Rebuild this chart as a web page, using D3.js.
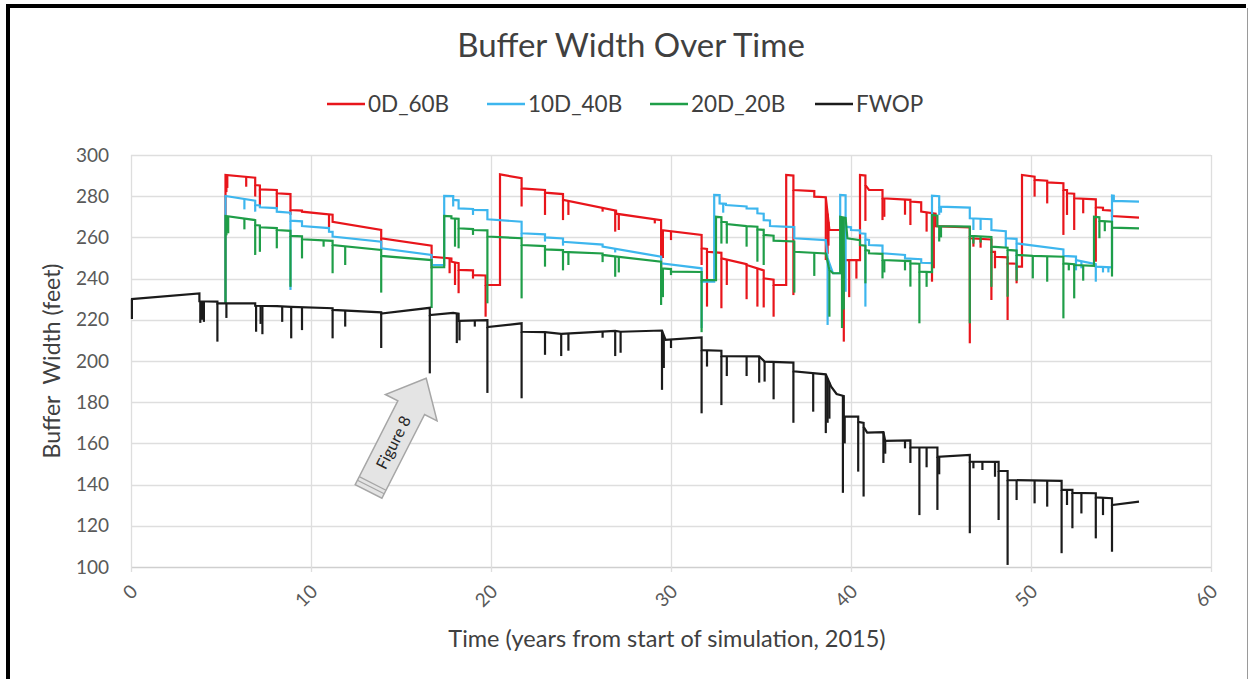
<!DOCTYPE html>
<html>
<head>
<meta charset="utf-8">
<title>Buffer Width Over Time</title>
<style>
    body { margin: 0; background: #fff; }
    text { font-family: Lato, "Open Sans", sans-serif; }
</style>
</head>
<body>
<div id="chart"></div>
<script src="https://d3js.org/d3.v7.min.js"></script>
<script>
// series legend
var seriesNames = ["0D_60B", "10D_40B", "20D_20B", "FWOP"];
var seriesColors = ["#e8151b", "#3db6ee", "#1f9e48", "#1b1b1b"];

var xTicks = [0, 10, 20, 30, 40, 50, 60];
var yTicks = [100, 120, 140, 160, 180, 200, 220, 240, 260, 280, 300];

// step lines: [years, feet]
var fwopPath = [[0,230],[3.8,232.8],[3.8,229],[4.8,228.8],[4.8,228],[6.9,228],[6.9,226.8],[8.1,226.6],[8.9,226.3],[11.2,225.6],[11.2,224.8],[13.9,223.6],[13.9,223],[16.6,225.8],[16.6,222.3],[17.9,223.4],[18.2,223],[18.2,219.5],[19.8,219.8],[19.8,216.5],[21.7,218.3],[21.7,214.2],[23.0,214],[23.9,213.2],[26.9,214.6],[27.2,214.2],[29.5,214.8],[29.7,210.3],[31.7,211.5],[31.7,205.3],[32.8,205],[32.8,202.4],[34.9,202.2],[35.2,199.7],[36.8,199.2],[36.8,195],[38.6,193.5],[38.9,187.5],[39.2,184],[39.6,183],[39.6,173],[40.4,173],[40.4,170.5],[40.7,170],[40.7,168],[40.9,165.2],[41.8,165.5],[41.9,161.2],[43.3,161.5],[43.3,158],[44.8,158],[44.8,153.5],[46.6,154.4],[46.6,151.1],[48.2,151],[48.2,146.6],[48.7,146.6],[48.7,142.2],[51.7,141.8],[51.7,137.4],[52.3,137.4],[52.3,136],[53.6,135.8],[53.6,133.8],[54.5,133.4],[54.5,130.1],[56,131.7]];
var fwopSpikes = [[0.05,220.4],[3.85,218.5],[3.95,220],[4.05,219],[4.8,209.4],[5.3,220.9],[6.95,214.2],[7.2,218],[7.3,213],[8.4,219],[8.9,211],[9.5,215],[11.2,211],[11.9,216.7],[13.9,206.3],[16.6,194],[18.1,208.7],[18.25,210],[19.1,216.7],[19.8,184.5],[21.7,181.9],[23.0,203],[23.9,202.4],[24.3,205],[26.2,211.3],[26.9,202.4],[27.2,204],[29.5,186],[29.6,196.6],[30.0,206.3],[31.7,174.6],[32.0,197.3],[32.8,178.6],[33.1,192.7],[34.2,192.7],[34.9,189.5],[35.2,190],[35.7,181.4],[36.8,170],[37.9,175.4],[38.6,165],[38.7,170],[38.8,172],[39.55,136],[39.65,160],[40.4,146.3],[40.7,134.2],[41.8,150.5],[41.9,155],[43.0,157.6],[43.3,150.5],[43.8,125.2],[44.2,148.4],[44.8,127.7],[44.9,145],[46.6,116.4],[46.8,147.9],[47.3,147.1],[48.0,143.8],[48.2,122.8],[48.7,101],[49.2,132.5],[50.2,130.9],[50.9,129.3],[51.7,106.7],[52.0,130.1],[52.3,118.8],[52.8,126],[53.6,113.9],[54.0,125.2],[54.5,107.4]];

var redPath = [[5.25,228],[5.25,290.3],[6.9,289],[6.9,285.4],[7.16,285.2],[7.16,283.3],[8.1,283],[8.1,281.4],[8.86,281],[8.86,273.3],[9.5,273],[9.5,272.5],[10.7,271.4],[11.2,271],[11.2,267.6],[13.9,263.6],[13.9,259.6],[16.7,256],[16.7,250.6],[17.8,249.8],[17.8,248.2],[18.2,247.5],[18.2,244.2],[19.0,244],[19.0,241.7],[19.7,241.5],[19.7,236.9],[20.5,236.9],[20.5,290.6],[21.7,288.7],[21.7,283.8],[23.0,283],[23.0,281.7],[24.0,281],[24.0,278.2],[26.95,273],[26.95,271.5],[29.45,268.4],[29.45,263.6],[31.7,261.2],[31.7,254.7],[32.0,254.4],[32.0,253],[32.8,252.5],[32.8,249.8],[34.2,247],[34.2,246.6],[35.15,244],[35.15,240.1],[35.7,239.5],[35.7,236.9],[36.4,236.9],[36.4,290.3],[36.8,290],[36.8,283],[37.96,282.5],[37.96,279.8],[38.6,279.5],[38.8,263.6],[39.5,263.6],[39.6,249],[40.5,249],[40.5,290.3],[40.8,290],[40.8,285.4],[41.0,283],[41.75,283],[41.75,279],[43.3,278.2],[43.3,277.4],[43.9,277],[43.9,272.5],[44.7,271.5],[44.7,265.5],[46.6,264.9],[46.6,259.6],[47.8,259],[47.8,253],[48.0,253],[48.0,250.6],[48.7,250.3],[48.7,247.4],[49.2,247.2],[49.2,245.8],[49.5,245.8],[49.5,290.3],[50.2,289.5],[50.2,287.9],[50.9,287.5],[50.9,286.7],[51.8,286.3],[51.8,283],[52.0,283],[52.0,281.4],[52.4,281.2],[52.4,279],[53.6,278.5],[53.6,274.6],[54.0,274.4],[54.0,273.3],[54.5,273],[54.5,270.4],[56,269.6]];
var redSpikes = [[5.3,282],[5.35,284],[6.4,284.6],[6.9,279.8],[7.16,275.7],[8.1,274],[8.86,270.9],[11.0,265],[13.9,253.9],[16.7,245],[17.7,242.6],[18.0,236.9],[18.2,232.9],[19.0,240],[19.7,221.5],[21.7,275],[23.0,270.9],[24.0,268.4],[24.3,270.9],[26.2,272.5],[26.9,262.8],[27.1,263.6],[29.1,266.8],[29.45,244],[29.55,250],[30.0,258.7],[31.7,246.6],[32.0,226.4],[32.8,225.6],[33.1,236.9],[34.2,230],[34.8,226.4],[35.15,226],[35.7,221.5],[36.8,232],[38.6,249],[38.7,252],[38.75,256],[39.6,209.4],[39.9,231],[40.3,240],[40.8,268],[41.75,268.4],[41.85,270],[43.0,271],[43.3,266],[44.2,262.8],[44.5,238.5],[44.6,245],[46.6,208.6],[46.8,255.5],[47.2,255],[47.8,229.6],[48.0,245],[48.7,219.9],[49.2,237.7],[50.2,279.8],[50.9,276.5],[51.8,261.2],[52.0,270.9],[52.4,263.6],[52.9,271.7],[53.6,248.2]];

var bluePath = [[5.25,228],[5.25,280.1],[6.9,277.8],[6.9,275.7],[7.16,275.5],[7.16,274.6],[8.1,274.2],[8.1,272.5],[8.86,272],[8.86,268.1],[9.5,267.8],[9.5,265.5],[11.0,264.5],[11.0,262.8],[11.2,262.7],[11.2,260.4],[13.9,257.9],[13.9,254.7],[16.7,251.5],[16.7,246.6],[17.4,246.6],[17.4,280.1],[17.9,280],[17.9,278.2],[18.2,278],[18.2,274.1],[19.0,273.8],[19.0,273.3],[19.8,273.2],[19.8,268.8],[21.7,267.6],[21.7,262],[23.0,261.5],[23.0,260],[24.0,259.5],[24.0,257.9],[26.2,256.5],[26.2,255.5],[29.45,250.6],[29.45,247.4],[31.7,245],[31.7,238.5],[32.4,238.5],[32.4,280.6],[32.7,280.5],[32.7,276.5],[33.05,276.3],[33.05,275.7],[34.2,275],[34.2,274.1],[34.8,274],[34.8,271.7],[35.15,271.5],[35.15,268.4],[35.5,268.2],[35.5,265.5],[36.85,265],[36.85,259.6],[38.6,258.7],[38.7,250],[38.9,245],[39.0,242.6],[39.4,242.6],[39.4,280.6],[39.7,280.4],[39.7,265.2],[40.0,264.9],[40.0,263.6],[40.5,263.4],[40.5,262],[40.8,261.8],[40.8,259],[41.0,258.8],[41.0,256.3],[41.75,256],[41.75,252.3],[43.0,251.5],[43.0,249.8],[43.9,249.4],[43.9,247.7],[44.5,247.5],[44.5,280.3],[44.9,280],[44.9,274.9],[46.6,274.5],[46.6,269.3],[47.8,268.8],[47.8,263.6],[48.6,263],[48.6,259.6],[49.2,259.3],[49.2,257.1],[51.8,254.2],[51.8,251],[52.5,250.7],[52.5,249],[53.6,247],[53.6,245.8],[54.5,245.5],[54.5,280.3],[54.6,280.2],[54.6,277.7],[56,277.4]];
var blueSpikes = [[6.3,273.6],[6.9,272.5],[8.86,234.5],[16.7,246],[17.9,275],[19.0,270.9],[21.7,259.6],[23.0,258],[24.0,256],[26.9,252.7],[29.45,245],[31.7,216],[32.9,272],[38.7,217.5],[39.7,233.6],[40.8,226.4],[44.9,270.9],[45.0,272],[46.8,263.6],[47.2,263.6],[48.6,254.9],[49.2,244.2],[52.5,244],[52.8,245],[53.6,238.5],[54.0,243],[54.3,243]];

var greenPath = [[5.25,228],[5.25,270.4],[6.9,268.4],[6.9,266],[7.16,265.8],[7.16,264.9],[8.1,264.5],[8.1,263.6],[8.86,263.2],[8.86,260.7],[9.5,260.5],[9.5,259.1],[11.2,258.3],[11.2,256.3],[13.9,253.9],[13.9,251],[16.7,249],[16.7,245.5],[17.4,245.5],[17.4,270.4],[17.8,270.2],[17.8,269.3],[18.2,269],[18.2,264.4],[19.0,264],[19.0,263.6],[19.8,263.4],[19.8,260.4],[21.7,259.6],[21.7,256.3],[23.0,255.8],[23.0,254.2],[24.0,253.8],[24.0,253],[26.2,252.2],[26.2,251.5],[29.45,248.2],[29.45,245],[30.0,244.6],[30.0,243.4],[31.7,243.2],[31.7,239.3],[32.5,239.3],[32.5,270],[32.8,269.8],[32.8,267.6],[33.1,267.4],[33.1,266.5],[34.2,265.5],[34.8,265.2],[34.8,263.9],[35.15,263.7],[35.15,261.2],[35.7,260.8],[35.7,258.4],[36.85,258],[36.85,253],[38.6,252.2],[38.8,244.2],[39.0,242.6],[39.4,242.6],[39.4,270],[39.7,269.5],[39.8,259.6],[40.5,258.7],[40.5,256.3],[40.8,256],[40.8,253.9],[41.0,253.6],[41.0,252.3],[41.75,252],[41.75,249],[43.3,248.5],[43.3,247.4],[43.8,247.2],[43.8,243.4],[44.5,243.2],[44.5,270.9],[44.8,270.5],[44.8,265.5],[46.6,265.2],[46.6,260.7],[47.8,260.2],[47.8,255.5],[48.7,255],[48.7,253.9],[49.2,253.6],[49.2,251.5],[50.1,251],[51.8,250.6],[51.8,247.4],[52.4,247],[52.4,246.6],[53.5,246.2],[53.5,270],[53.8,269.8],[53.8,268],[54.5,267.6],[54.5,264.7],[56,264.4]];
var greenSpikes = [[5.3,261],[5.35,263],[5.4,262],[6.3,263.9],[6.9,251.5],[7.16,253],[8.1,254.7],[8.86,236],[9.5,249.8],[10.7,255.5],[11.2,242.6],[11.9,246.6],[13.9,233.2],[16.7,225.7],[18.0,255.5],[18.2,254.7],[19.0,261.2],[19.8,228],[21.7,230.4],[23.0,245.8],[24.0,244],[24.3,246.6],[26.2,248],[26.9,240.9],[27.1,243],[29.45,227.2],[29.55,231],[30.0,241.7],[31.7,214],[32.8,257],[33.1,257],[34.2,255.5],[34.8,248.2],[35.15,246.6],[36.85,233.2],[37.96,241.3],[38.8,221.5],[39.5,216],[39.6,225],[40.8,237.7],[41.75,240.1],[41.85,243],[43.0,244],[43.3,236.1],[43.8,218.3],[44.2,236],[44.9,258],[45.0,260],[46.6,218.3],[46.8,257],[47.2,257.5],[47.8,236],[48.7,231.2],[49.2,239],[50.1,240.1],[50.9,238.5],[51.8,220.7],[52.1,244],[52.4,230.4],[52.9,239],[53.8,259.6],[54.1,263],[54.5,241]];

// where the "Figure 8" arrow points, in chart units
var figureArrowTip = [16.4, 191.6];

var width = 1249, height = 679;

var svg = d3.select("#chart").append("svg")
    .attr("width", width)
    .attr("height", height);

var x = d3.scaleLinear().domain([0, 60]).range([131, 1211]);
var y = d3.scaleLinear().domain([100, 300]).range([567, 155]);

// frame
svg.append("path")
    .attr("d", "M8,700V6H1246")
    .attr("fill", "none")
    .attr("stroke", "#000")
    .attr("stroke-width", 4);
svg.append("line")
    .attr("x1", 1247.5).attr("x2", 1247.5)
    .attr("y1", 8).attr("y2", height)
    .attr("stroke", "#9a9a9a").attr("stroke-width", 1);

// grid
svg.append("g").selectAll("line")
    .data(yTicks).enter().append("line")
    .attr("x1", x(0)).attr("x2", x(60))
    .attr("y1", function (d) { return Math.round(y(d)) + 0.5; })
    .attr("y2", function (d) { return Math.round(y(d)) + 0.5; })
    .attr("stroke", function (d) { return d === 100 ? "#cfcfcf" : "#dedede"; })
    .attr("stroke-width", 1.3);

svg.append("g").selectAll("line")
    .data(xTicks).enter().append("line")
    .attr("x1", function (d) { return Math.round(x(d)) + 0.5; })
    .attr("x2", function (d) { return Math.round(x(d)) + 0.5; })
    .attr("y1", y(300)).attr("y2", y(100) + 5)
    .attr("stroke", "#dedede")
    .attr("stroke-width", 1.3);

// tick labels
svg.append("g").selectAll("text")
    .data(yTicks).enter().append("text")
    .attr("x", 109)
    .attr("y", function (d) { return y(d); })
    .attr("dy", "0.35em")
    .attr("text-anchor", "end")
    .attr("font-size", 19)
    .attr("fill", "#595959")
    .text(function (d) { return d; });

svg.append("g").selectAll("text")
    .data(xTicks).enter().append("text")
    .attr("transform", function (d) { return "translate(" + (x(d) + 3) + ",588) rotate(-45)"; })
    .attr("dy", "0.35em")
    .attr("text-anchor", "end")
    .attr("font-size", 19)
    .attr("fill", "#595959")
    .text(function (d) { return d; });

// titles
svg.append("text")
    .attr("x", 631).attr("y", 57)
    .attr("text-anchor", "middle")
    .attr("font-size", 33)
    .attr("fill", "#404040")
    .text("Buffer Width Over Time");

svg.append("text")
    .attr("x", 667).attr("y", 647)
    .attr("text-anchor", "middle")
    .attr("font-size", 23.5)
    .attr("fill", "#404040")
    .text("Time (years from start of simulation, 2015)");

svg.append("text")
    .attr("transform", "translate(60,361) rotate(-90)")
    .attr("text-anchor", "middle")
    .attr("font-size", 23)
    .attr("fill", "#404040")
    .style("white-space", "pre")
    .text("Buffer  Width (feet)");

// legend
var legendX = [327, 487, 650, 815];
var legend = svg.append("g").selectAll("g")
    .data(seriesNames).enter().append("g")
    .attr("transform", function (d, i) { return "translate(" + legendX[i] + ",104)"; });
legend.append("line")
    .attr("x1", 0).attr("x2", 38)
    .attr("stroke", function (d, i) { return seriesColors[i]; })
    .attr("stroke-width", 2.5);
legend.append("text")
    .attr("x", 41)
    .attr("dy", "0.35em")
    .attr("font-size", 22.5)
    .attr("fill", "#404040")
    .text(function (d) { return d; });

// series
var line = d3.line()
    .x(function (d) { return x(d[0]); })
    .y(function (d) { return y(d[1]); });

function baseAt(path, t) {
    var i = d3.bisector(function (d) { return d[0]; }).right(path, t);
    if (i <= 0) return path[0][1];
    if (i >= path.length) return path[path.length - 1][1];
    var a = path[i - 1], b = path[i];
    if (b[0] === a[0]) return b[1];
    return a[1] + (b[1] - a[1]) * (t - a[0]) / (b[0] - a[0]);
}

var series = [
    {path: redPath, spikes: redSpikes, color: seriesColors[0]},
    {path: bluePath, spikes: blueSpikes, color: seriesColors[1]},
    {path: greenPath, spikes: greenSpikes, color: seriesColors[2]},
    {path: fwopPath, spikes: fwopSpikes, color: seriesColors[3]}
];

series.forEach(function (s) {
    var g = svg.append("g");
    g.selectAll("line")
        .data(s.spikes).enter().append("line")
        .attr("x1", function (d) { return x(d[0]); })
        .attr("x2", function (d) { return x(d[0]); })
        .attr("y1", function (d) { return y(baseAt(s.path, d[0])); })
        .attr("y2", function (d) { return y(d[1]); })
        .attr("stroke", s.color)
        .attr("stroke-width", 2.2);
    g.append("path")
        .datum(s.path)
        .attr("d", line)
        .attr("fill", "none")
        .attr("stroke", s.color)
        .attr("stroke-width", 2.2)
        .attr("stroke-linejoin", "miter");
});

// "Figure 8" call-out arrow
var arrow = svg.append("g")
    .attr("transform", "translate(" + x(figureArrowTip[0]) + "," + y(figureArrowTip[1]) + ") rotate(-63)");
arrow.append("path")
    .attr("d", "M0,0L-33,-29L-33,-15L-127,-15L-127,15L-33,15L-33,29Z")
    .attr("fill", "#e4e4e4")
    .attr("stroke", "#a6a6a6")
    .attr("stroke-width", 1.5);
arrow.append("path")
    .attr("d", "M-122,-15V15M-118,-15V15")
    .attr("stroke", "#a6a6a6")
    .attr("stroke-width", 1.2);
arrow.append("text")
    .attr("x", -72)
    .attr("dy", "0.35em")
    .attr("text-anchor", "middle")
    .attr("font-size", 16)
    .attr("fill", "#262626")
    .text("Figure 8");
</script>
</body>
</html>
